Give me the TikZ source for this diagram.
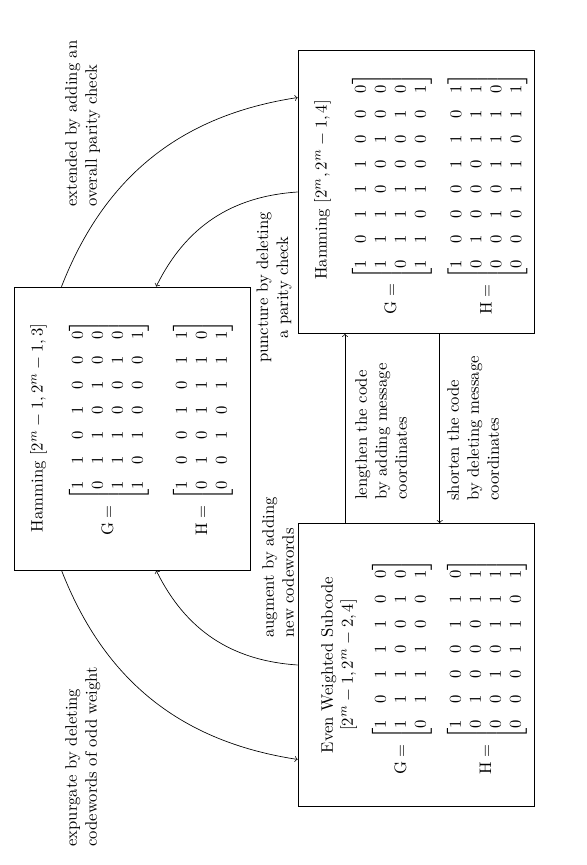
\documentclass[tikz,border=0pt]{standalone}
\usepackage{amsmath}
\usetikzlibrary{calc}
\tikzset{
  codebox/.style={draw, minimum width=169.8pt, minimum height=141.6pt, inner sep=0pt},
  content/.style={inner sep=0pt, align=center},
  lbl/.style={inner sep=0pt, align=left, anchor=north west},
  clbl/.style={inner sep=0pt, align=center},
  conn/.style={->},
}
\begin{document}
\begin{tikzpicture}[x=0.6pt,y=0.6pt]
\begin{scope}[rotate=90, transform shape]
\useasboundingbox (0,0) rectangle (865,587);

% boxes
\node[codebox] (A) at (436.5,454.5) {};
\node[codebox] (B) at (673,171) {};
\node[codebox] (C) at (200,171) {};

% box A content
\node[content] (At) at (437,548.5) {Hamming $[2^m-1, 2^m-1, 3]$};
\node[content] (AG) at (437,478) {$\mathrm{G} = \begin{bmatrix}
1&1&0&1&0&0&0\\
0&1&1&0&1&0&0\\
1&1&1&0&0&1&0\\
1&0&1&0&0&0&1
\end{bmatrix}$};
\node[content] (AH) at (437,384) {$\mathrm{H} = \begin{bmatrix}
1&0&0&1&0&1&1\\
0&1&0&1&1&1&0\\
0&0&1&0&1&1&1
\end{bmatrix}$};

% box B content
\node[content] (Bt) at (675,264.5) {Hamming $[2^m, 2^m-1, 4]$};
\node[content] (BG) at (671,195) {$\mathrm{G} = \begin{bmatrix}
1&0&1&1&1&0&0&0\\
1&1&1&0&0&1&0&0\\
0&1&1&1&0&0&1&0\\
1&1&0&1&0&0&0&1
\end{bmatrix}$};
\node[content] (BH) at (671,99.5) {$\mathrm{H} = \begin{bmatrix}
1&0&0&0&1&1&0&1\\
0&1&0&0&0&1&1&1\\
0&0&1&0&1&1&1&0\\
0&0&0&1&1&0&1&1
\end{bmatrix}$};

% box C content
\node[content] (Ct) at (200,248) {Even Weighted Subcode\\ $[2^m-1, 2^m-2, 4]$};
\node[content] (CG) at (198,185) {$\mathrm{G} = \begin{bmatrix}
1&0&1&1&1&0&0\\
1&1&1&0&0&1&0\\
0&1&1&1&0&0&1
\end{bmatrix}$};
\node[content] (CH) at (198,100) {$\mathrm{H} = \begin{bmatrix}
1&0&0&0&1&1&0\\
0&1&0&0&0&1&1\\
0&0&1&0&1&1&1\\
0&0&0&1&1&0&1
\end{bmatrix}$};

% connectors
\draw[conn] ($(A.south east)!0.8!(A.north east)$) to[bend left=30] ($(B.north west)!0.833!(B.north east)$);
\draw[conn] (B.north) to[bend right=30] ($(A.south east)!0.4!(A.north east)$);
\draw[conn] ($(A.south west)!0.8!(A.north west)$) to[bend right=30] ($(C.north west)!0.167!(C.north east)$);
\draw[conn] (C.north) to[bend left=30] ($(A.south west)!0.4!(A.north west)$);
\draw[conn] ($(C.south east)!0.8!(C.north east)$) -- ($(B.south west)!0.8!(B.north west)$);
\draw[conn] ($(B.south west)!0.4!(B.north west)$) -- ($(C.south east)!0.4!(C.north east)$);

% labels
\node[lbl] (lext) at (658,522) {extended by adding an\\overall parity check};
\node[clbl] (lpun) at (577.5,313) {puncture by deleting\\a parity check};
\node[lbl] (lexp) at (18,522) {expurgate by deleting\\codewords of odd weight};
\node[lbl] (laug) at (227,325) {augment by adding\\new codewords};
\node[lbl] (llen) at (365,232) {lengthen the code\\by adding message\\coordinates};
\node[lbl] (lsho) at (364,140) {shorten the code\\by deleting message\\coordinates};
\end{scope}
\end{tikzpicture}
\end{document}
